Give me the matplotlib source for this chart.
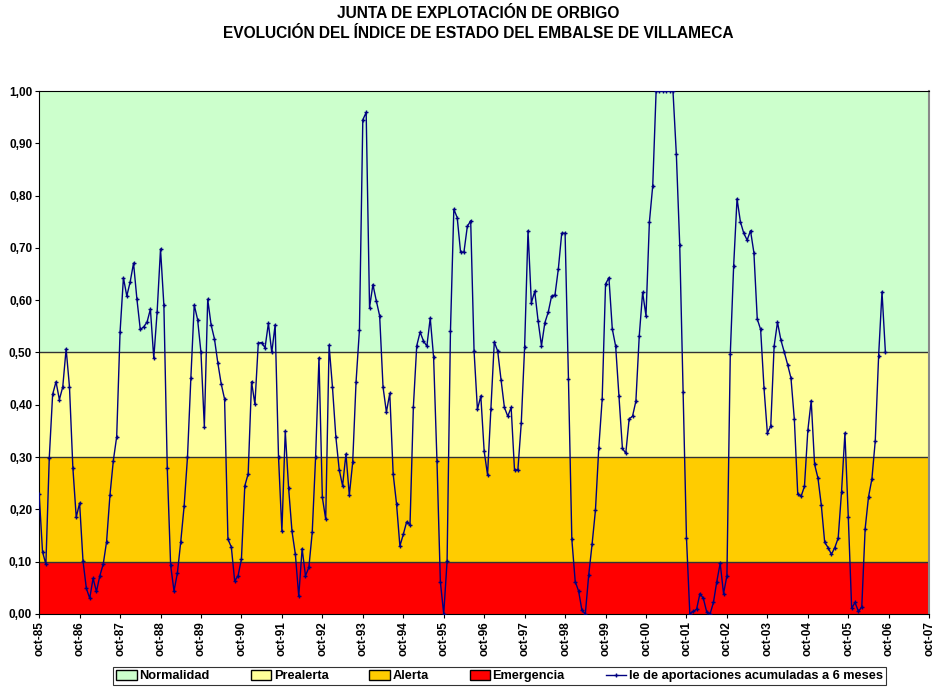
import matplotlib
matplotlib.use("Agg")
from matplotlib import pyplot as plt
from matplotlib.patches import Patch
from matplotlib.lines import Line2D

plt.rcParams['font.family'] = ['Liberation Sans', 'DejaVu Sans']

# indice de estado mensual, desde oct-85
ie = [0.23, 0.119, 0.095, 0.298, 0.42, 0.444, 0.41, 0.434, 0.507, 0.434, 0.28, 0.185,
      0.212, 0.102, 0.049, 0.030, 0.068, 0.043, 0.073, 0.095, 0.138, 0.227, 0.293, 0.339,
      0.539, 0.643, 0.608, 0.635, 0.671, 0.602, 0.544, 0.549, 0.558, 0.583, 0.489, 0.578,
      0.698, 0.590, 0.279, 0.093, 0.044, 0.078, 0.138, 0.206, 0.30, 0.451, 0.591, 0.563,
      0.50, 0.358, 0.602, 0.553, 0.526, 0.480, 0.440, 0.411, 0.143, 0.128, 0.063, 0.073,
      0.105, 0.245, 0.268, 0.444, 0.401, 0.518, 0.519, 0.509, 0.556, 0.50, 0.553, 0.30,
      0.158, 0.350, 0.240, 0.158, 0.114, 0.034, 0.125, 0.073, 0.089, 0.156, 0.30, 0.490,
      0.223, 0.181, 0.514, 0.434, 0.339, 0.276, 0.245, 0.306, 0.227, 0.290, 0.444, 0.543,
      0.945, 0.959, 0.586, 0.630, 0.599, 0.570, 0.434, 0.386, 0.422, 0.268, 0.211, 0.130,
      0.152, 0.176, 0.170, 0.396, 0.513, 0.539, 0.522, 0.512, 0.566, 0.491, 0.292, 0.062,
      0.0, 0.101, 0.541, 0.774, 0.758, 0.692, 0.692, 0.741, 0.752, 0.503, 0.391, 0.417,
      0.311, 0.266, 0.391, 0.520, 0.503, 0.448, 0.395, 0.378, 0.395, 0.275, 0.276, 0.365,
      0.511, 0.733, 0.595, 0.617, 0.560, 0.513, 0.557, 0.577, 0.608, 0.610, 0.660, 0.728,
      0.728, 0.449, 0.143, 0.062, 0.044, 0.007, 0.0, 0.074, 0.133, 0.198, 0.318, 0.411,
      0.631, 0.643, 0.545, 0.512, 0.416, 0.317, 0.307, 0.373, 0.378, 0.407, 0.532, 0.615,
      0.570, 0.749, 0.819, 1.0, 1.0, 1.0, 1.0, 1.0, 1.0, 0.879, 0.706, 0.424,
      0.146, 0.0, 0.005, 0.009, 0.039, 0.030, 0.004, 0.0, 0.022, 0.062, 0.097, 0.039,
      0.073, 0.497, 0.666, 0.794, 0.750, 0.728, 0.715, 0.733, 0.691, 0.564, 0.544, 0.432,
      0.346, 0.359, 0.512, 0.558, 0.524, 0.501, 0.477, 0.451, 0.372, 0.230, 0.225, 0.244,
      0.351, 0.408, 0.286, 0.260, 0.208, 0.137, 0.127, 0.114, 0.127, 0.145, 0.234, 0.346,
      0.185, 0.011, 0.022, 0.005, 0.013, 0.163, 0.224, 0.258, 0.331, 0.494, 0.616, 0.501]

x_labels = ["oct-85", "oct-86", "oct-87", "oct-88", "oct-89", "oct-90", "oct-91", "oct-92",
            "oct-93", "oct-94", "oct-95", "oct-96", "oct-97", "oct-98", "oct-99", "oct-00",
            "oct-01", "oct-02", "oct-03", "oct-04", "oct-05", "oct-06", "oct-07"]

# umbrales de los estados
estados = ["Emergencia", "Alerta", "Prealerta", "Normalidad"]
limites = [0.0, 0.1, 0.3, 0.5, 1.0]
colores = ["#FF0000", "#FFCC00", "#FFFF99", "#CCFFCC"]

fig = plt.figure(figsize=(9.32, 6.88), dpi=100)
ax = fig.add_axes([0.042, 0.1076, 0.955, 0.7601])

meses = list(range(len(ie)))
n_meses = 12 * (len(x_labels) - 1)

for i in range(len(estados)):
    ax.axhspan(limites[i], limites[i + 1], color=colores[i], zorder=0, lw=0)
for lim in limites[1:4]:
    ax.axhline(lim, color="#333333", lw=1, zorder=1)

ax.plot(meses, ie, color="#000080", lw=1, marker="+", ms=3, mew=1, zorder=3)

ax.set_xlim(0, n_meses)
ax.set_ylim(0, 1)
ax.set_xticks(range(0, n_meses + 1, 12))
ax.set_xticklabels(x_labels, rotation=90, fontsize=8.5, fontweight="bold")
yt = [i / 10 for i in range(11)]
ax.set_yticks(yt)
ax.set_yticklabels([f"{v:.2f}".replace(".", ",") for v in yt], fontsize=8.5, fontweight="bold")
ax.tick_params(direction="out", length=3, width=0.8, pad=2)
for s in ["left", "bottom", "top"]:
    ax.spines[s].set_color("black")
ax.spines["right"].set_color("#888888")
ax.spines["right"].set_linewidth(1.5)

fig.text(0.513, 0.981, "JUNTA DE EXPLOTACIÓN DE ORBIGO", ha="center", va="center",
         fontsize=11.2, fontweight="bold")
fig.text(0.513, 0.952, "EVOLUCIÓN DEL ÍNDICE DE ESTADO DEL EMBALSE DE VILLAMECA", ha="center",
         va="center", fontsize=11.2, fontweight="bold")

handles = [Patch(facecolor=colores[3], edgecolor="black", label=estados[3]),
           Patch(facecolor=colores[2], edgecolor="black", label=estados[2]),
           Patch(facecolor=colores[1], edgecolor="black", label=estados[1]),
           Patch(facecolor=colores[0], edgecolor="black", label=estados[0]),
           Line2D([], [], color="#000080", lw=1, marker="+", ms=3, mew=1,
                  label="Ie de aportaciones acumuladas a 6 meses")]
leg = fig.legend(handles=handles, loc="upper center", bbox_to_anchor=(0.536, 0.031), ncol=5,
                 frameon=True, fancybox=False, edgecolor="black",
                 prop={"weight": "bold", "size": 9.2}, handlelength=1.6, handleheight=0.8,
                 handletextpad=0.2, columnspacing=3.2, borderpad=0.25, borderaxespad=0)
leg.get_frame().set_linewidth(0.8)

fig.savefig("out.png", dpi=100)
